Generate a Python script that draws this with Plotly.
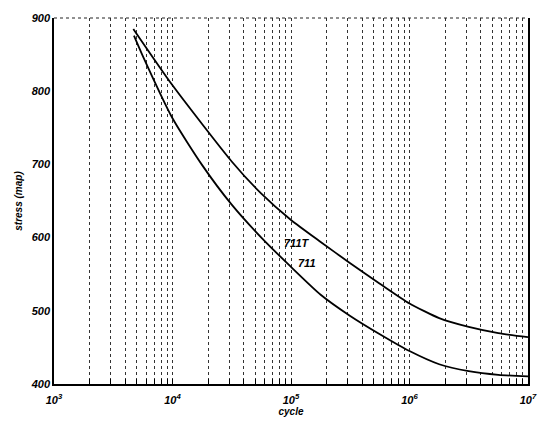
import plotly.graph_objects as go
import numpy as np

# data
cycles_711T = [4670, 10000, 31600, 56200, 100000, 178000, 316000, 562000,
               1000000, 1780000, 3160000, 5620000, 10000000]
stress_711T = [885, 808, 704, 660, 624, 594, 565, 537, 510, 490, 478, 469.5, 464]

cycles_711 = [4730, 5620, 10000, 17800, 31600, 56200, 100000, 178000, 316000, 562000,
              1000000, 1780000, 3160000, 5620000, 10000000]
stress_711 = [876, 848, 763, 699, 645, 600, 560, 522, 493, 468, 445, 427, 417.5, 412.5, 410.5]

decades = [3, 4, 5, 6, 7]
y_ticks = [400, 500, 600, 700, 800, 900]

tickvals = []
ticktext = []
for d in decades:
    for m in range(1, 10):
        if d == 7 and m > 1:
            break
        tickvals.append(m * 10 ** d)
        ticktext.append(f"10<sup>{d}</sup>" if m == 1 else "")

font_family = "Liberation Sans, Arial, sans-serif"

fig = go.Figure()
fig.add_trace(go.Scatter(x=cycles_711T, y=stress_711T, mode="lines", name="711T",
                         line=dict(color="black", width=1.8, shape="spline", smoothing=0.6)))
fig.add_trace(go.Scatter(x=cycles_711, y=stress_711, mode="lines", name="711",
                         line=dict(color="black", width=1.8, shape="spline", smoothing=0.6)))

fig.add_annotation(x=np.log10(112000), y=593, text="711T", showarrow=False,
                   font=dict(family=font_family, size=11, color="black", style="italic", weight="bold"))
fig.add_annotation(x=np.log10(136000), y=565, text="711", showarrow=False,
                   font=dict(family=font_family, size=11, color="black", style="italic", weight="bold"))

# top border (dotted)
fig.add_shape(type="line", xref="paper", yref="paper", x0=0, x1=1, y0=1, y1=1,
              line=dict(color="#222", width=1, dash="dot"))

fig.update_layout(
    width=549, height=425,
    margin=dict(l=54, r=15, t=15, b=32),
    paper_bgcolor="white", plot_bgcolor="white",
    showlegend=False,
    font=dict(family=font_family, color="black"),
    xaxis=dict(type="log", range=[3, 7], tickvals=tickvals, ticktext=ticktext,
               ticks="inside", ticklen=5, tickcolor="black",
               showgrid=True, gridcolor="#333", griddash="dot", gridwidth=1,
               showline=True, linecolor="black", linewidth=1.5,
               ticklabelstandoff=5,
               tickfont=dict(size=11, color="black", style="italic", weight="bold"),
               title=dict(text="cycle", standoff=0,
                          font=dict(size=10, color="black", style="italic", weight="bold")),
               zeroline=False),
    yaxis=dict(range=[400, 900], tickvals=y_ticks, ticks="", showgrid=False,
               showline=True, linecolor="black", linewidth=1.5, mirror=True,
               tickfont=dict(size=11, color="black", style="italic", weight="bold"),
               title=dict(text="stress (map)", standoff=6,
                          font=dict(size=10, color="black", style="italic", weight="bold")),
               zeroline=False),
)

fig.write_html("out.html")
